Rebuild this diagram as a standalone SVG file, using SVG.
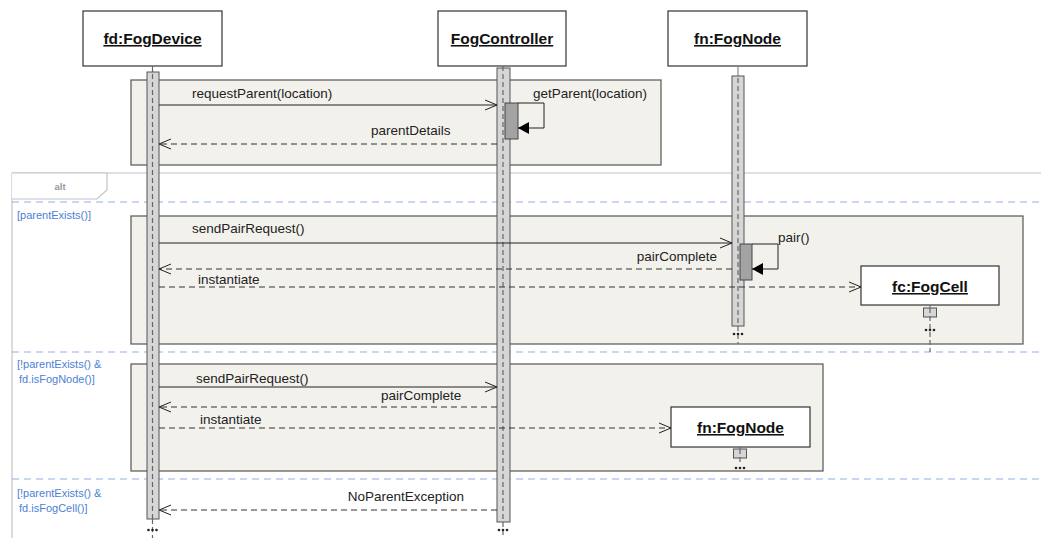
<svg xmlns="http://www.w3.org/2000/svg" width="1041" height="538" viewBox="0 0 1041 538">
<defs>
<style>
.obj{fill:#fff;stroke:#333;stroke-width:1.2}
.on{font-family:"Liberation Sans",Arial,sans-serif;font-weight:bold;font-size:15.5px;fill:#111;text-anchor:middle;text-decoration:underline}
.frag{fill:#f3f1ec;stroke:#555;stroke-width:1.2}
.bar{fill:#d6d6d6;stroke:#555;stroke-width:1}
.act{fill:#a3a3a3;stroke:#444;stroke-width:1}
.ll{stroke:#666;stroke-width:1.2;stroke-dasharray:5,3;fill:none}
.msg{stroke:#222;stroke-width:1;fill:none}
.ret{stroke:#333;stroke-width:1;stroke-dasharray:6,4;fill:none}
.lbl{font-family:"Liberation Sans",Arial,sans-serif;font-size:13.5px;fill:#222}
.grd{font-family:"Liberation Sans",Arial,sans-serif;font-size:11px;fill:#4d7fd6}
.sep{stroke:#8fb0e8;stroke-width:1.2;stroke-dasharray:7,5}
.dots{fill:#222}
</style>
<marker id="open" markerWidth="14" markerHeight="12" refX="13" refY="6" orient="auto" markerUnits="userSpaceOnUse">
<path d="M1,1 L13,6 L1,11" fill="none" stroke="#222" stroke-width="1"/>
</marker>
<marker id="fill" markerWidth="12" markerHeight="12" refX="11" refY="6" orient="auto" markerUnits="userSpaceOnUse">
<path d="M0,0 L11,6 L0,12 Z" fill="#000"/>
</marker>
</defs>

<g id="alt-frame">
<path d="M12,538 L12,173 L1041,173" fill="none" stroke="#c4c4c4" stroke-width="1.2"/>
<path d="M12,173 L107,173 L107,190 L97,199 L12,199" fill="#fff" stroke="#c4c4c4" stroke-width="1.2"/>
<text x="60" y="190" font-family="Liberation Sans,Arial,sans-serif" font-size="9.5px" font-weight="bold" fill="#999" text-anchor="middle">alt</text>
<line class="sep" x1="12" y1="202" x2="1041" y2="202"/>
<line class="sep" x1="12" y1="352" x2="1041" y2="352"/>
<line class="sep" x1="12" y1="479" x2="1041" y2="479"/>
<text class="grd" x="17" y="219">[parentExists()]</text>
<text class="grd" x="17" y="368">[!parentExists() &amp;</text>
<text class="grd" x="19" y="383">fd.isFogNode()]</text>
<text class="grd" x="17" y="497">[!parentExists() &amp;</text>
<text class="grd" x="19" y="512">fd.isFogCell()]</text>
</g>

<g id="fragments">
<rect class="frag" x="131" y="80" width="530" height="85"/>
<rect class="frag" x="131" y="216" width="892" height="128"/>
<rect class="frag" x="131" y="364" width="692" height="107"/>
</g>

<g id="fd">
<rect class="obj" x="83" y="11" width="139" height="55"/>
<text class="on" x="152.5" y="44">fd:FogDevice</text>
<line x1="152.5" y1="66" x2="152.5" y2="72" stroke="#666" stroke-width="1.2"/>
<rect class="bar" x="147" y="72" width="12" height="447"/>
<line class="ll" x1="152.5" y1="74" x2="152.5" y2="519"/>
<line class="ll" x1="152.5" y1="519" x2="152.5" y2="538"/>
<g class="dots"><circle cx="148.5" cy="530" r="1.3"/><circle cx="152.5" cy="530" r="1.3"/><circle cx="156.5" cy="530" r="1.3"/></g>
</g>

<g id="fogcontroller">
<rect class="obj" x="438" y="11" width="128" height="55"/>
<text class="on" x="502" y="44">FogController</text>
<rect class="bar" x="497" y="68" width="13" height="454"/>
<line class="ll" x1="503" y1="66" x2="503" y2="522"/>
<line class="ll" x1="503" y1="522" x2="503" y2="538"/>
<g class="dots"><circle cx="499" cy="530" r="1.3"/><circle cx="503" cy="530" r="1.3"/><circle cx="507" cy="530" r="1.3"/></g>
<rect class="act" x="505" y="103" width="13" height="36"/>
</g>

<g id="fn">
<rect class="obj" x="668" y="11" width="139" height="55"/>
<text class="on" x="737.5" y="44">fn:FogNode</text>
<line x1="738" y1="66" x2="738" y2="76" stroke="#888" stroke-width="1.2"/>
<rect class="bar" x="732" y="76" width="12" height="250"/>
<line class="ll" x1="738" y1="78" x2="738" y2="326"/>
<line class="ll" x1="738" y1="326" x2="738" y2="344"/>
<g class="dots"><circle cx="734" cy="334" r="1.3"/><circle cx="738" cy="334" r="1.3"/><circle cx="742" cy="334" r="1.3"/></g>
<rect class="act" x="740" y="244" width="12" height="36"/>
</g>

<g id="fc">
<rect class="obj" x="861" y="266" width="138" height="39"/>
<text class="on" x="930" y="292">fc:FogCell</text>
<line x1="930" y1="305" x2="930" y2="308" stroke="#666" stroke-width="1"/>
<rect class="bar" x="923.5" y="308" width="13" height="9"/>
<line class="ll" x1="930" y1="308" x2="930" y2="352" stroke-dasharray="3,3"/>
<g class="dots"><circle cx="926" cy="330" r="1.3"/><circle cx="930" cy="330" r="1.3"/><circle cx="934" cy="330" r="1.3"/></g>
</g>

<g id="fn2">
<rect class="obj" x="671" y="407" width="139" height="40"/>
<text class="on" x="740.5" y="433">fn:FogNode</text>
<line x1="740" y1="447" x2="740" y2="449" stroke="#666" stroke-width="1"/>
<rect class="bar" x="733.5" y="449" width="13" height="9"/>
<line class="ll" x1="740" y1="449" x2="740" y2="462" stroke-dasharray="3,3"/>
<g class="dots"><circle cx="736" cy="468" r="1.3"/><circle cx="740" cy="468" r="1.3"/><circle cx="744" cy="468" r="1.3"/></g>
</g>

<g id="connectors">
<line class="msg" x1="159" y1="105" x2="497" y2="105" marker-end="url(#open)"/>
<text class="lbl" x="192" y="98">requestParent(location)</text>
<path class="msg" d="M518,103 L544,103 L544,128 L518,128" marker-end="url(#fill)"/>
<text class="lbl" x="533" y="98">getParent(location)</text>
<line class="ret" x1="497" y1="144" x2="159" y2="144" marker-end="url(#open)"/>
<text class="lbl" x="371" y="135">parentDetails</text>

<line class="msg" x1="159" y1="243" x2="732" y2="243" marker-end="url(#open)"/>
<text class="lbl" x="192" y="233">sendPairRequest()</text>
<path class="msg" d="M752,244 L778,244 L778,269 L752,269" marker-end="url(#fill)"/>
<text class="lbl" x="778" y="242">pair()</text>
<line class="ret" x1="732" y1="269" x2="159" y2="269" marker-end="url(#open)"/>
<text class="lbl" x="717" y="261" text-anchor="end">pairComplete</text>
<line class="ret" x1="159" y1="287" x2="861" y2="287" marker-end="url(#open)"/>
<text class="lbl" x="198" y="284">instantiate</text>

<line class="msg" x1="159" y1="387" x2="497" y2="387" marker-end="url(#open)"/>
<text class="lbl" x="196" y="383">sendPairRequest()</text>
<line class="ret" x1="497" y1="407" x2="159" y2="407" marker-end="url(#open)"/>
<text class="lbl" x="381" y="400">pairComplete</text>
<line class="ret" x1="159" y1="428" x2="671" y2="428" marker-end="url(#open)"/>
<text class="lbl" x="200" y="424">instantiate</text>

<line class="ret" x1="497" y1="510" x2="159" y2="510" marker-end="url(#open)"/>
<text class="lbl" x="464" y="501" text-anchor="end">NoParentException</text>
</g>
</svg>
